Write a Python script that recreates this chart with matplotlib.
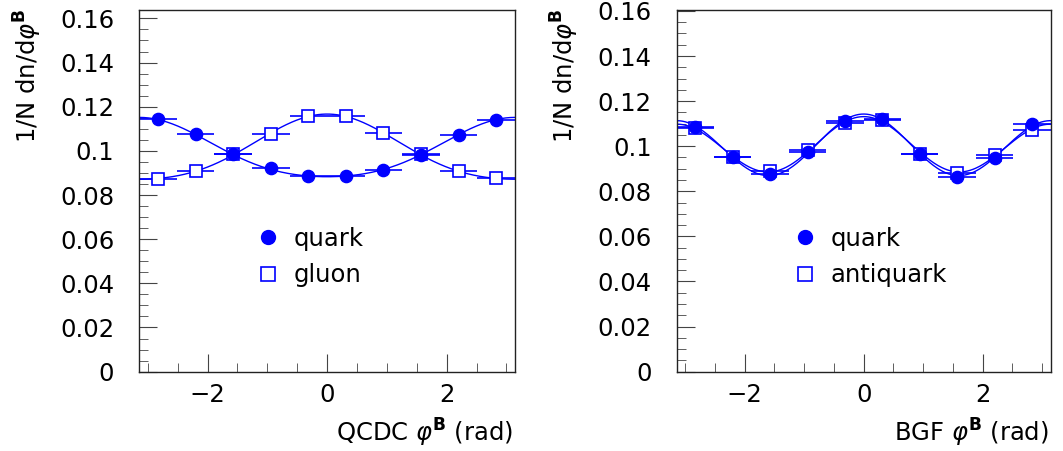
import numpy as np
import matplotlib
matplotlib.use("Agg")
import matplotlib.pyplot as plt
from matplotlib.lines import Line2D
from matplotlib.ticker import MultipleLocator, FuncFormatter

# bins in phi^B (rad), 10 bins from -pi to pi
bin_edges = np.linspace(-np.pi, np.pi, 11)
phi = 0.5 * (bin_edges[:-1] + bin_edges[1:])
half_width = 0.5 * (bin_edges[1] - bin_edges[0])

# QCDC panel
qcdc_quark = [0.1144, 0.1077, 0.0984, 0.0921, 0.0886, 0.0885, 0.0913, 0.0981, 0.1070, 0.1140]
qcdc_gluon = [0.0873, 0.0908, 0.0984, 0.1075, 0.1158, 0.1158, 0.1079, 0.0984, 0.0908, 0.0876]

# BGF panel
bgf_quark = [0.1083, 0.0950, 0.0876, 0.0976, 0.1110, 0.1121, 0.0965, 0.0862, 0.0947, 0.1098]
bgf_antiquark = [0.1081, 0.0950, 0.0890, 0.0984, 0.1103, 0.1114, 0.0965, 0.0883, 0.0959, 0.1073]

blue = "#0000ff"
fs = 17.5
plt.rcParams["font.family"] = "DejaVu Sans"
plt.rcParams["mathtext.fontset"] = "dejavusans"


def fit_curve(x, y, xs):
    # least-squares fit of a + b cos(phi) + c cos(2 phi)
    x = np.asarray(x)
    basis = np.column_stack([np.ones_like(x), np.cos(x), np.cos(2 * x)])
    coef, *_ = np.linalg.lstsq(basis, np.asarray(y), rcond=None)
    return coef[0] + coef[1] * np.cos(xs) + coef[2] * np.cos(2 * xs)


def draw_panel(ax, y_full, y_open, label_full, label_open, ymax):
    xs = np.linspace(-np.pi, np.pi, 400)
    ax.plot(xs, fit_curve(phi, y_full, xs), color=blue, lw=1)
    ax.plot(xs, fit_curve(phi, y_open, xs), color=blue, lw=1)

    ax.errorbar(phi, y_open, xerr=half_width, fmt="s", ms=9, mfc="white",
                mec=blue, mew=1.2, ecolor=blue, elinewidth=1.2, capsize=0)
    ax.errorbar(phi, y_full, xerr=half_width, fmt="o", ms=8.8, mfc=blue,
                mec=blue, ecolor=blue, elinewidth=1.2, capsize=0)

    ax.set_xlim(-np.pi, np.pi)
    ax.set_ylim(0, ymax)
    ax.xaxis.set_major_locator(MultipleLocator(2))
    ax.xaxis.set_minor_locator(MultipleLocator(0.5))
    ax.yaxis.set_major_locator(MultipleLocator(0.02))
    ax.yaxis.set_minor_locator(MultipleLocator(0.005))
    ax.yaxis.set_major_formatter(FuncFormatter(lambda v, p: "0" if v == 0 else ("%.2f" % v).rstrip("0")))
    ax.xaxis.set_major_formatter(FuncFormatter(lambda v, p: ("%d" % v).replace("-", "\u2212")))
    ax.tick_params(which="both", direction="in", top=False, right=False, labelsize=fs, color="#444444")
    ax.tick_params(axis="y", which="major", length=13, pad=18)
    ax.tick_params(axis="y", which="minor", length=6.5)
    ax.tick_params(axis="x", which="major", length=13, pad=8)
    ax.tick_params(axis="x", which="minor", length=6.5)
    for s in ax.spines.values():
        s.set_linewidth(1)
        s.set_color("#222222")

    handles = [
        Line2D([], [], ls="none", marker="o", ms=10, mfc=blue, mec=blue),
        Line2D([], [], ls="none", marker="s", ms=9.5, mfc="white", mec=blue, mew=1.2),
    ]
    ax.legend(handles, [label_full, label_open], loc="upper left",
              bbox_to_anchor=(0.311, 0.40), frameon=False, fontsize=fs,
              borderpad=0, borderaxespad=0, handlelength=1.0, handletextpad=0.53,
              labelspacing=0.5)


fig = plt.figure(figsize=(10.63, 4.51), dpi=100)
ax1 = fig.add_axes([0.1310, 0.1760, 0.3534, 0.8018])
ax2 = fig.add_axes([0.6366, 0.1760, 0.3518, 0.8018])

draw_panel(ax1, qcdc_quark, qcdc_gluon, "quark", "gluon", 0.1638)
draw_panel(ax2, bgf_quark, bgf_antiquark, "quark", "antiquark", 0.1604)

ylabel = r"1/N dn/d$\varphi^{\mathbf{B}}$"
fig.text(28 / 1063, 1 - 8 / 451, ylabel, rotation=90, ha="center", va="top", fontsize=fs)
fig.text(565 / 1063, 1 - 8 / 451, ylabel, rotation=90, ha="center", va="top", fontsize=fs)
fig.text(513 / 1063, 1 - 417 / 451, r"QCDC $\varphi^{\mathbf{B}}$ (rad)", ha="right", va="top", fontsize=fs)
fig.text(1049 / 1063, 1 - 417 / 451, r"BGF $\varphi^{\mathbf{B}}$ (rad)", ha="right", va="top", fontsize=fs)

fig.savefig("out.png", dpi=100)
